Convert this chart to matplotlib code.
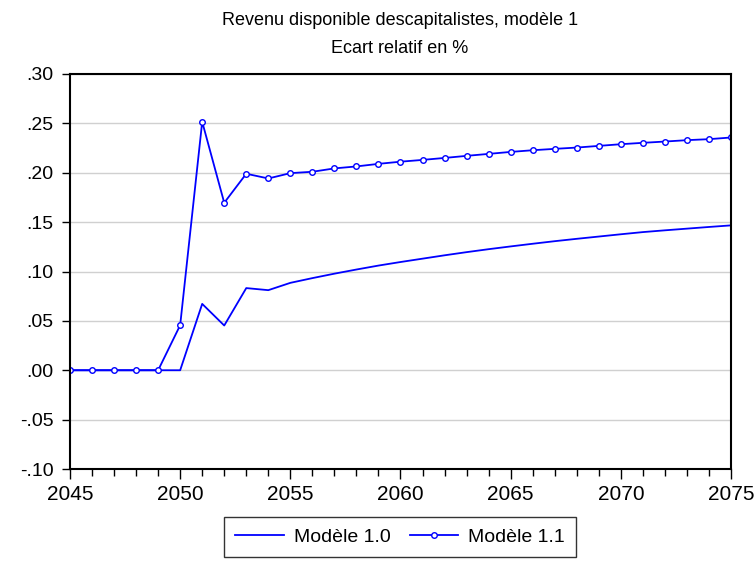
import matplotlib
matplotlib.use("Agg")
import matplotlib.pyplot as plt
from matplotlib.ticker import FuncFormatter, MultipleLocator

years = list(range(2045, 2076))
modele_10 = [0, 0, 0, 0, 0, 0, 0.0672, 0.0453, 0.0832, 0.0811, 0.0885,
             0.0933, 0.0978, 0.1020, 0.1060, 0.1096, 0.1130, 0.1164, 0.1196,
             0.1226, 0.1254, 0.1281, 0.1307, 0.1331, 0.1354, 0.1377, 0.1399,
             0.1417, 0.1434, 0.1451, 0.1467]
modele_11 = [0, 0, 0, 0, 0, 0.0456, 0.2516, 0.1696, 0.1990, 0.1942, 0.1996,
             0.2010, 0.2044, 0.2064, 0.2090, 0.2112, 0.2130, 0.2150, 0.2171,
             0.2191, 0.2211, 0.2228, 0.2242, 0.2255, 0.2272, 0.2289, 0.2303,
             0.2316, 0.2330, 0.2340, 0.2357]
labels = ["Modèle 1.0", "Modèle 1.1"]
title_lines = ["Revenu disponible descapitalistes, modèle 1", "Ecart relatif en %"]

plt.rcParams['font.family'] = ['Liberation Sans', 'DejaVu Sans']

fig = plt.figure(figsize=(7.56, 5.70), dpi=100)
ax = fig.add_axes([70/756, 1-469/570, (731-70)/756, (469-74)/570])

blue = '#0000ff'
ax.plot(years, modele_10, color=blue, lw=1.3, label=labels[0])
ax.plot(years, modele_11, color=blue, lw=1.3, marker='o', markersize=4,
        markerfacecolor='white', markeredgecolor=blue, markeredgewidth=1.0,
        label=labels[1])

ax.set_xlim(2045, 2075)
ax.set_ylim(-0.10, 0.30)
ax.xaxis.set_major_locator(MultipleLocator(5))
ax.xaxis.set_minor_locator(MultipleLocator(1))
ax.yaxis.set_major_locator(MultipleLocator(0.05))

def yfmt(v, pos):
    s = f"{v:.2f}"
    if s.startswith("-0"):
        s = "-" + s[2:]
    elif s.startswith("0"):
        s = s[1:]
    return s

ax.yaxis.set_major_formatter(FuncFormatter(yfmt))
ax.grid(axis='y', color='#d0d0d0', lw=1.0)
ax.set_axisbelow(True)

for sp in ax.spines.values():
    sp.set_linewidth(1.5)
    sp.set_color('black')

ax.tick_params(axis='x', which='major', direction='out', length=7, width=1,
               pad=4.5, labelsize=15)
ax.tick_params(axis='x', which='minor', direction='out', length=4.8, width=1)
ax.tick_params(axis='y', which='major', direction='out', length=5.5, width=1,
               pad=6.5, labelsize=14)

fig.text(400/756, 1-25/570, title_lines[0], ha='center', va='baseline', fontsize=13)
fig.text(400/756, 1-53/570, title_lines[1], ha='center', va='baseline', fontsize=13)

leg = fig.legend(loc='center', bbox_to_anchor=(400/756, 1-537/570), ncol=2,
                 frameon=True, fancybox=False, edgecolor='black',
                 prop={'size': 14}, handlelength=2.5, columnspacing=1.0,
                 handletextpad=0.5, borderpad=0.6)
leg.get_frame().set_linewidth(1.0)

fig.savefig("out.png", dpi=100)
